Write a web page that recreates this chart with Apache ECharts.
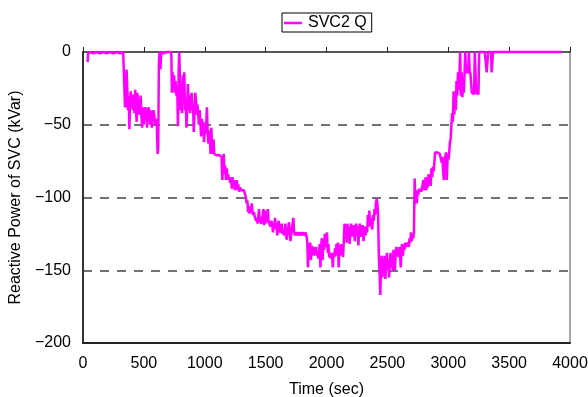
<!DOCTYPE html>
<html>
<head>
<meta charset="utf-8">
<script src="https://cdn.jsdelivr.net/npm/echarts@6/dist/echarts.min.js"></script>
<style>
  html, body { margin: 0; padding: 0; background: #fff; }
  #chart { width: 588px; height: 397px; }
</style>
</head>
<body>
<div id="chart"></div>
<script>
// Reactive power of SVC2 over time: [time (sec), Q (kVar)]
const seriesName = 'SVC2 Q';
const svc2Q = [
  [38,-7],[42,-1],[60,0],[85,-1],[110,0],[140,-1],[165,0],[195,-1],[220,0],[250,-1],[280,0],[305,-1],[330,0],[340,-1],
  [345,-38],[352,-36],[358,-12],[364,-13],[370,-40],[376,-30],[381,-53],[386,-35],[392,-27],[398,-38],[404,-29],[410,-40],
  [417,-30],[423,-42],[429,-26],[435,-40],[441,-48],[447,-28],[454,-38],[460,-43],[467,-40],[473,-30],[480,-44],[486,-52],
  [492,-38],[498,-50],[505,-42],[512,-38],[519,-40],[526,-52],[533,-40],[540,-38],[546,-42],[552,-50],[558,-40],[565,-52],
  [572,-44],[579,-40],[586,-44],[593,-50],[600,-46],[607,-52],[613,-70],[618,-66],[623,-10],[628,0],[636,-12],[642,0],
  [660,-1],[690,0],[720,0],[726,-2],
  [730,-28],[736,-14],[742,-26],[748,-16],[754,-28],[760,-20],[767,-30],[774,-24],[780,-51],[786,-12],[791,0],[796,0],
  [802,-40],[808,-22],[814,-42],[820,-16],[826,-30],[832,-14],[838,-40],[844,-32],[850,-52],[856,-38],[862,-22],[868,-40],
  [874,-30],[880,-42],[886,-34],[892,-28],[898,-40],[904,-36],[910,-55],[916,-40],[922,-28],[928,-33],[934,-43],[940,-36],
  [946,-42],[952,-50],[958,-40],[964,-48],[970,-58],[976,-46],[982,-55],[988,-48],[994,-62],[1000,-52],[1006,-56],[1012,-50],
  [1018,-38],[1024,-55],[1030,-63],[1036,-54],[1042,-60],[1048,-70],[1054,-52],
  [1060,-66],[1066,-70],[1072,-60],[1078,-70],[1090,-70],[1100,-71],[1110,-70],[1120,-71],[1130,-70],[1138,-72],[1144,-88],
  [1150,-80],[1156,-70],[1162,-84],[1168,-78],[1174,-88],[1180,-80],[1186,-86],[1192,-84],[1198,-88],[1204,-86],[1210,-90],
  [1216,-87],[1222,-94],[1228,-86],[1234,-92],[1240,-88],[1246,-95],[1252,-90],[1258,-94],[1264,-88],[1270,-95],[1276,-91],
  [1282,-96],[1290,-93],[1298,-95],[1306,-94],[1314,-96],[1322,-95],[1330,-96],
  [1338,-100],[1344,-104],[1350,-102],[1356,-110],[1362,-106],[1368,-111],[1374,-108],[1380,-110],[1386,-104],[1392,-110],
  [1398,-112],[1404,-110],[1410,-113],[1416,-112],[1422,-116],[1428,-114],[1434,-118],[1440,-117],[1446,-108],[1452,-116],
  [1458,-116],[1464,-118],[1470,-119],[1476,-112],[1482,-108],[1488,-119],[1494,-109],[1500,-118],[1506,-110],[1512,-117],
  [1518,-108],[1524,-116],[1530,-118],[1536,-117],[1542,-120],[1548,-116],[1554,-118],[1560,-124],[1566,-118],[1572,-120],
  [1578,-114],[1584,-122],[1590,-120],[1596,-126],[1602,-118],[1608,-116],[1614,-124],[1620,-122],[1626,-124],[1632,-118],
  [1638,-125],[1644,-122],[1650,-126],[1656,-124],[1662,-118],[1668,-126],[1674,-129],[1680,-124],[1686,-124],[1692,-117],
  [1698,-124],[1704,-130],[1710,-125],[1716,-124],[1722,-126],[1728,-114],[1734,-124],[1740,-126],[1746,-124],[1752,-126],
  [1758,-124],[1764,-125],[1770,-124],[1776,-126],[1782,-124],[1788,-125],[1794,-124],[1800,-126],
  [1806,-124],[1812,-125],[1818,-124],[1824,-126],[1830,-124],[1836,-127],[1842,-130],[1848,-148],[1854,-132],[1860,-140],
  [1866,-131],[1872,-143],[1878,-133],[1884,-138],[1890,-134],[1896,-140],[1902,-135],[1908,-138],[1914,-134],[1920,-140],
  [1926,-137],[1932,-142],[1938,-138],[1944,-132],[1950,-148],[1956,-133],[1962,-128],[1968,-143],[1974,-130],[1980,-136],
  [1986,-125],[1992,-134],[1998,-132],[2004,-124],[2010,-138],[2016,-132],[2022,-141],[2028,-138],[2034,-142],[2040,-138],
  [2046,-140],[2052,-148],[2058,-138],[2064,-141],[2070,-135],[2076,-140],[2082,-132],[2088,-139],[2094,-131],[2100,-148],
  [2106,-134],[2112,-140],[2118,-132],[2124,-139],[2130,-134],[2136,-141],[2142,-130],[2148,-118],[2154,-126],[2160,-119],
  [2166,-131],[2172,-118],[2178,-126],[2184,-120],[2190,-132],[2196,-122],[2202,-118],[2208,-127],[2214,-120],[2220,-125],
  [2226,-119],[2232,-130],[2238,-121],[2244,-118],[2250,-126],[2256,-120],[2262,-133],[2268,-122],[2274,-118],[2280,-127],
  [2286,-121],[2292,-124],[2298,-119],[2304,-130],[2310,-122],[2316,-120],[2322,-126],[2328,-121],[2334,-124],[2340,-112],
  [2346,-118],[2352,-109],[2358,-120],[2364,-114],[2370,-118],[2376,-122],[2382,-112],[2388,-116],[2394,-108],[2400,-112],
  [2406,-104],[2412,-101],[2418,-104],[2424,-112],[2430,-140],[2436,-152],[2442,-167],[2448,-146],
  [2454,-140],[2460,-155],[2466,-142],[2472,-150],[2478,-140],[2484,-156],[2490,-145],[2496,-138],[2502,-150],[2508,-143],
  [2514,-155],[2520,-144],[2526,-138],[2532,-148],[2538,-141],[2544,-150],[2550,-136],[2556,-142],[2562,-150],[2568,-140],
  [2574,-134],[2580,-140],[2586,-136],[2592,-141],[2598,-134],[2604,-140],[2610,-148],[2616,-135],[2622,-132],[2628,-140],
  [2634,-133],[2640,-136],[2646,-131],[2652,-134],[2658,-131],[2664,-133],[2670,-131],[2676,-134],[2682,-128],[2688,-131],
  [2694,-124],[2700,-130],[2706,-126],[2712,-128],[2718,-125],
  [2724,-87],[2730,-102],[2736,-95],[2742,-104],[2748,-96],[2754,-98],[2760,-94],[2766,-96],[2772,-94],[2778,-96],[2784,-94],
  [2790,-95],[2796,-88],[2802,-95],[2808,-93],[2814,-86],[2820,-95],[2826,-88],[2832,-93],[2838,-84],[2844,-90],[2850,-86],
  [2856,-92],[2862,-80],[2868,-86],[2874,-79],[2880,-82],[2886,-76],[2892,-69],[2900,-69],[2910,-69],[2920,-69],[2930,-70],
  [2940,-69],[2946,-76],[2952,-72],[2958,-82],[2964,-88],[2970,-76],[2976,-72],[2982,-69],[2988,-88],
  [2996,-70],[3002,-74],[3008,-69],[3014,-62],[3020,-60],[3026,-50],[3032,-42],[3038,-48],[3044,-27],[3050,-43],[3056,-30],
  [3062,-40],[3068,-20],[3074,-30],[3080,-14],[3086,-26],[3092,-16],[3098,0],[3104,-30],[3110,-14],[3116,-31],[3122,-22],
  [3128,-28],[3134,-14],[3140,0],[3146,-14],[3152,-15],[3158,-13],[3164,-14],[3170,0],[3176,-13],[3182,-15],[3188,-14],
  [3194,-28],[3200,-27],[3206,-28],[3212,-29],[3218,0],[3224,0],[3230,-28],[3236,-29],[3242,-28],[3248,-29],[3254,0],
  [3260,0],[3300,0],[3312,0],[3316,-14],[3322,-14],[3328,0],[3352,0],[3356,-14],[3362,-14],[3368,0],[3500,0],[3700,0],[3930,0]
];

// Axis ranges and ticks
const xRange = [0, 4000];
const xStep = 500;
const yRange = [-200, 0];
const yStep = 50;

const FONT = '"Liberation Sans", Arial, sans-serif';
const plain = v => String(v).replace('-', '\u2212');

const chart = echarts.init(document.getElementById('chart'), null, { renderer: 'canvas' });

chart.setOption({
  animation: false,
  backgroundColor: '#ffffff',
  textStyle: { fontFamily: FONT },
  grid: { left: 83, right: 18, top: 52, bottom: 54, containLabel: false, outerBoundsMode: 'none' },
  legend: {
    data: [seriesName],
    left: 282,
    top: 13,
    padding: [2, 5, 1, 2],
    icon: 'rect',
    itemWidth: 18,
    itemHeight: 2.5,
    itemGap: 4,
    borderColor: '#000',
    borderWidth: 1,
    borderRadius: 0,
    backgroundColor: '#fff',
    textStyle: { fontFamily: FONT, fontSize: 16, color: '#000', padding: [0, 0, 0, 1] }
  },
  xAxis: [
    {
      type: 'value',
      position: 'bottom',
      min: xRange[0], max: xRange[1], interval: xStep,
      name: 'Time (sec)',
      nameLocation: 'middle',
      nameGap: 39,
      nameTextStyle: { fontFamily: FONT, fontSize: 16, color: '#000' },
      axisLine: { show: true, onZero: false, lineStyle: { color: '#222', width: 2 } },
      axisTick: { show: false },
      axisLabel: { fontFamily: FONT, fontSize: 16, color: '#000', margin: 13, formatter: plain },
      splitLine: { show: false }
    },
    {
      type: 'value',
      position: 'top',
      min: xRange[0], max: xRange[1], interval: xStep,
      axisLine: { show: true, onZero: false, lineStyle: { color: '#222', width: 1.5 } },
      axisTick: { show: true, inside: false, length: 5, lineStyle: { color: '#222', width: 1 } },
      axisLabel: { show: false },
      splitLine: { show: false }
    }
  ],
  yAxis: [
    {
      type: 'value',
      position: 'left',
      min: yRange[0], max: yRange[1], interval: yStep,
      name: 'Reactive Power of SVC (kVar)',
      nameLocation: 'middle',
      nameGap: 52,
      nameTextStyle: { fontFamily: FONT, fontSize: 16, color: '#000' },
      axisLine: { show: true, onZero: false, lineStyle: { color: '#333', width: 2 } },
      axisTick: { show: false },
      axisLabel: { fontFamily: FONT, fontSize: 16, color: '#000', margin: 12, formatter: plain },
      splitLine: {
        show: true,
        showMinLine: false,
        showMaxLine: false,
        lineStyle: { color: '#444', width: 1.5, type: [9, 8] }
      }
    },
    {
      type: 'value',
      position: 'right',
      min: yRange[0], max: yRange[1], interval: yStep,
      axisLine: { show: true, onZero: false, lineStyle: { color: '#888', width: 1.5 } },
      axisTick: { show: false },
      axisLabel: { show: false },
      splitLine: { show: false }
    }
  ],
  series: [
    {
      name: seriesName,
      type: 'line',
      xAxisIndex: 0,
      yAxisIndex: 0,
      data: svc2Q,
      symbol: 'none',
      showSymbol: false,
      clip: false,
      lineStyle: { color: '#ff00ff', width: 2.5 },
      itemStyle: { color: '#ff00ff' },
      z: 5
    }
  ]
});
</script>
</body>
</html>
